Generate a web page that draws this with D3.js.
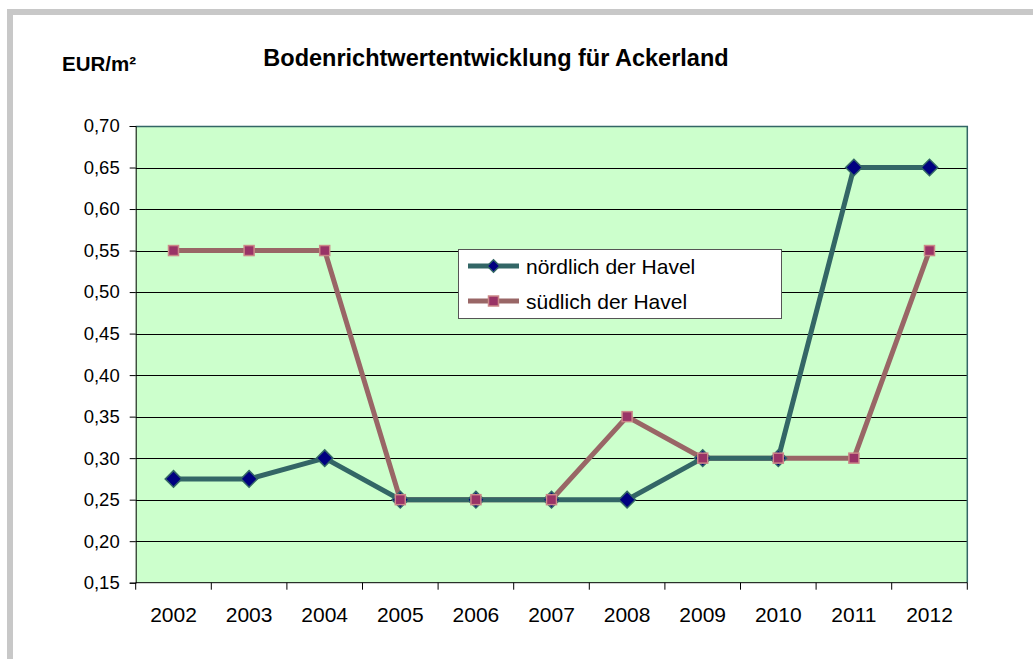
<!DOCTYPE html>
<html>
<head>
<meta charset="utf-8">
<script src="https://cdn.jsdelivr.net/npm/d3@7"></script>
<style>
  body { margin: 0; background: #fff; }
  svg { display: block; font-family: "Liberation Sans", Arial, sans-serif; }
</style>
</head>
<body>
<svg id="canvas" width="1033" height="659"></svg>
<script>
// Données
let annees = ['2002','2003','2004','2005','2006','2007','2008','2009','2010','2011','2012']
let nord = [0.275, 0.275, 0.30, 0.25, 0.25, 0.25, 0.25, 0.30, 0.30, 0.65, 0.65]
let sud = [0.55, 0.55, 0.55, 0.25, 0.25, 0.25, 0.35, 0.30, 0.30, 0.30, 0.55]
let graduationsY = [0.15, 0.20, 0.25, 0.30, 0.35, 0.40, 0.45, 0.50, 0.55, 0.60, 0.65, 0.70]
let nomsSeries = ['nördlich der Havel', 'südlich der Havel']

let canvas = d3.select('#canvas')

// cadre gris (haut et gauche)
canvas.append('rect').attr('x', 7).attr('y', 9).attr('width', 1040).attr('height', 6).attr('fill', '#c8c8c8')
canvas.append('rect').attr('x', 7).attr('y', 9).attr('width', 6).attr('height', 660).attr('fill', '#c8c8c8')

let gauche = 135.7, droite = 967.3, haut = 126, bas = 582.7

let x = d3.scaleBand().domain(annees).range([gauche, droite])
let y = d3.scaleLinear().domain([0.15, 0.70]).range([bas, haut])

// fond de la zone de tracé
canvas.append('rect')
  .attr('x', gauche).attr('y', haut)
  .attr('width', droite - gauche).attr('height', bas - haut)
  .attr('fill', '#ccffcc')

// lignes de grille
canvas.append('g').selectAll('line')
  .data(graduationsY.slice(1, -1))
  .enter().append('line')
  .attr('x1', gauche).attr('x2', droite)
  .attr('y1', d => Math.round(y(d)) + 0.5).attr('y2', d => Math.round(y(d)) + 0.5)
  .attr('stroke', '#000').attr('stroke-width', 1)

// bordure haut / droite
canvas.append('path')
  .attr('d', `M${gauche},${haut + 0.5}H${droite}V${bas}`)
  .attr('fill', 'none').attr('stroke', '#336666').attr('stroke-width', 1.5)

// axe Y
let axeY = d3.axisLeft(y).tickValues(graduationsY).tickSize(6).tickPadding(10)
  .tickFormat(d => d3.format('.2f')(d).replace('.', ','))
canvas.append('g')
  .attr('transform', `translate(${gauche},0)`)
  .call(axeY)
  .call(g => g.selectAll('text').attr('font-size', 18.5).attr('fill', '#000').attr('font-family', '"Liberation Sans", Arial, sans-serif'))
  .call(g => g.selectAll('line, path').attr('stroke', '#000'))

// axe X (graduations entre les catégories)
canvas.append('line')
  .attr('x1', gauche).attr('x2', droite).attr('y1', bas).attr('y2', bas)
  .attr('stroke', '#000')
canvas.append('g').selectAll('line')
  .data(annees.concat(['fin']))
  .enter().append('line')
  .attr('x1', (d, i) => i < annees.length ? x(d) : droite)
  .attr('x2', (d, i) => i < annees.length ? x(d) : droite)
  .attr('y1', bas).attr('y2', bas + 7)
  .attr('stroke', '#000')
canvas.append('g').selectAll('text')
  .data(annees)
  .enter().append('text')
  .attr('x', d => x(d) + x.bandwidth() / 2)
  .attr('y', 622)
  .attr('text-anchor', 'middle')
  .attr('font-size', 21)
  .text(d => d)

// courbes
let ligne = d3.line()
  .x((d, i) => x(annees[i]) + x.bandwidth() / 2)
  .y(d => y(d))

canvas.append('path').datum(sud)
  .attr('d', ligne).attr('fill', 'none')
  .attr('stroke', '#996666').attr('stroke-width', 5)

canvas.append('path').datum(nord)
  .attr('d', ligne).attr('fill', 'none')
  .attr('stroke', '#336666').attr('stroke-width', 5)

// marqueurs nord : losanges
let losange = d3.symbol().type(d3.symbolDiamond2).size(175)
canvas.append('g').selectAll('path')
  .data(nord)
  .enter().append('path')
  .attr('d', losange)
  .attr('transform', (d, i) => `translate(${x(annees[i]) + x.bandwidth() / 2},${y(d)})`)
  .attr('fill', '#000080').attr('stroke', '#336666').attr('stroke-width', 1.5)

// marqueurs sud : carrés
canvas.append('g').selectAll('rect')
  .data(sud)
  .enter().append('rect')
  .attr('x', (d, i) => x(annees[i]) + x.bandwidth() / 2 - 5)
  .attr('y', d => y(d) - 5)
  .attr('width', 10).attr('height', 10)
  .attr('fill', '#993366').attr('stroke', '#cc8888').attr('stroke-width', 1.5)

// titres
canvas.append('text')
  .attr('x', 496).attr('y', 66)
  .attr('text-anchor', 'middle')
  .attr('font-size', 23.5).attr('font-weight', 'bold')
  .text('Bodenrichtwertentwicklung für Ackerland')

canvas.append('text')
  .attr('x', 62).attr('y', 70.5)
  .attr('font-size', 20.5).attr('font-weight', 'bold')
  .text('EUR/m²')

// légende
let legende = canvas.append('g')
legende.append('rect')
  .attr('x', 458.5).attr('y', 249.5).attr('width', 323).attr('height', 69)
  .attr('fill', '#fff').attr('stroke', '#555').attr('stroke-width', 1)

let lignesLegende = [266, 301]
let couleursLignes = ['#336666', '#996666']
nomsSeries.forEach((nom, i) => {
  let ly = lignesLegende[i]
  legende.append('line')
    .attr('x1', 468).attr('x2', 519).attr('y1', ly).attr('y2', ly)
    .attr('stroke', couleursLignes[i]).attr('stroke-width', 5)
  if (i === 0) {
    legende.append('path')
      .attr('d', d3.symbol().type(d3.symbolDiamond2).size(100))
      .attr('transform', `translate(493.5,${ly})`)
      .attr('fill', '#000080').attr('stroke', '#336666').attr('stroke-width', 1.5)
  } else {
    legende.append('rect')
      .attr('x', 488.5).attr('y', ly - 5).attr('width', 10).attr('height', 10)
      .attr('fill', '#993366').attr('stroke', '#cc8888').attr('stroke-width', 1.5)
  }
  legende.append('text')
    .attr('x', 526).attr('y', ly + 7.5)
    .attr('font-size', 21)
    .text(nom)
})
</script>
</body>
</html>
